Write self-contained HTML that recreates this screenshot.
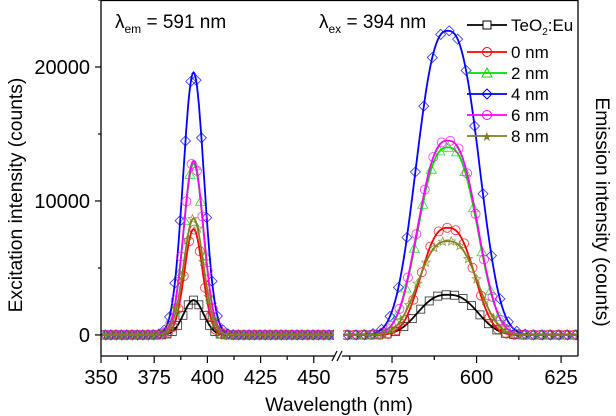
<!DOCTYPE html>
<html><head><meta charset="utf-8"><style>
body{margin:0;background:#fff}
svg text{font-family:"Liberation Sans",Arial,sans-serif;fill:#000}
</style></head><body>
<svg id="chart" width="616" height="416" viewBox="0 0 616 416" xmlns="http://www.w3.org/2000/svg" style="position:absolute;left:0;top:0">
<g id="plot"></g>
<g id="axes"></g>
</svg>
<script>
const seriesNames=["TeO2:Eu","0 nm","2 nm","4 nm","6 nm","8 nm"];
const seriesColors=["#000000","#ff0000","#00dd00","#0000ff","#ff00ff","#808020"];
const markerKinds=["square","circle","triangle","diamond","circle","star"];
const excitationPeaks=[2600,7900,12800,19600,13000,8700];
const emissionPeaks=[3000,8000,14000,22700,14500,7000];
const excitationCenter=393.5;
const emissionCenter=591.5;
const excitationFwhm=[11,10,11,11.5,11,11];
const emissionFwhm=[19,17,19,20,19,19];
const xTicksLeft=[350,375,400,425,450];
const xTicksRight=[575,600,625];
const yTicks=[0,10000,20000];

const NS="http://www.w3.org/2000/svg";
const L={x0:101,x1:334,d0:350,d1:459.5};
const R={x0:343,x1:578,d0:560.5,d1:630};
const Y={y0:356,y1:0,d0:-1570,d1:25000};
function xl(v){return L.x0+(v-L.d0)/(L.d1-L.d0)*(L.x1-L.x0);}
function xr(v){return R.x0+(v-R.d0)/(R.d1-R.d0)*(R.x1-R.x0);}
function ys(v){return Y.y0+(v-Y.d0)/(Y.d1-Y.d0)*(Y.y1-Y.y0);}
function mk(tag,attrs,parent){const e=document.createElementNS(NS,tag);for(const k in attrs)e.setAttribute(k,attrs[k]);parent.appendChild(e);return e;}
function g(c,p,f,P){return p*Math.exp(-Math.LN2*Math.pow(Math.abs(c)/(f/2),P));}
function marker(kind,x,y,color,parent){
  let e;
  if(kind==="square")e=mk("rect",{x:x-4,y:y-4,width:8,height:8},parent);
  else if(kind==="circle")e=mk("circle",{cx:x,cy:y,r:4.5},parent);
  else if(kind==="triangle")e=mk("path",{d:`M${x},${y-5}L${x+5},${y+4}L${x-5},${y+4}Z`},parent);
  else if(kind==="diamond")e=mk("path",{d:`M${x},${y-5}L${x+5},${y}L${x},${y+5}L${x-5},${y}Z`},parent);
  else{let d="";for(let i=0;i<10;i++){const r=i%2?2:4.5,a=-Math.PI/2+i*Math.PI/5;d+=(i?"L":"M")+(x+r*Math.cos(a)).toFixed(1)+","+(y+r*Math.sin(a)).toFixed(1);}e=mk("path",{d:d+"Z"},parent);}
  e.setAttribute("fill","none");e.setAttribute("stroke",color);e.setAttribute("stroke-width","0.9");e.setAttribute("opacity","0.75");
  return e;
}
const plot=document.getElementById("plot");
const cpL=mk("clipPath",{id:"cl"},plot);mk("rect",{x:L.x0,y:0,width:L.x1-L.x0,height:356},cpL);
const cpR=mk("clipPath",{id:"cr"},plot);mk("rect",{x:R.x0,y:0,width:R.x1-R.x0,height:356},cpR);
for(let i=0;i<seriesNames.length;i++){
  const gs=mk("g",{},plot);
  
  
  const gl=mk("g",{"clip-path":"url(#cl)"},gs);
  let d="";
  for(let v=350;v<=460;v+=0.5){d+=(d?"L":"M")+xl(v).toFixed(1)+","+ys(g(v-excitationCenter,excitationPeaks[i],excitationFwhm[i],2)).toFixed(1);}
  mk("path",{d:d,fill:"none",stroke:seriesColors[i],"stroke-width":1.8},gl);
  for(let v=351+i*0.4;v<=460;v+=2.5){marker(markerKinds[i],xl(v),ys(g(v-excitationCenter,excitationPeaks[i],excitationFwhm[i],2)),seriesColors[i],gl);}
  const gr=mk("g",{"clip-path":"url(#cr)"},gs);
  d="";
  for(let v=560;v<=631;v+=0.5){d+=(d?"L":"M")+xr(v).toFixed(1)+","+ys(g(v-emissionCenter,emissionPeaks[i],emissionFwhm[i],2.6)).toFixed(1);}
  mk("path",{d:d,fill:"none",stroke:seriesColors[i],"stroke-width":1.8},gr);
  for(let v=561+i*0.3;v<=631;v+=2.5){marker(markerKinds[i],xr(v),ys(g(v-emissionCenter,emissionPeaks[i],emissionFwhm[i],2.6)),seriesColors[i],gr);}
}
const ax=document.getElementById("axes");
mk("path",{d:"M101,356L101,0.5L578,0.5L578,356",fill:"none",stroke:"#000","stroke-width":1.3},ax);
mk("line",{x1:101,y1:356,x2:335,y2:356,stroke:"#000","stroke-width":1.3},ax);
mk("line",{x1:342,y1:356,x2:578,y2:356,stroke:"#000","stroke-width":1.3},ax);
mk("path",{d:"M332,361L337,351M337,361L342,351",fill:"none",stroke:"#000","stroke-width":1.2},ax);
for(let v=350;v<=455;v+=12.5){const x=xl(v);mk("line",{x1:x,y1:356,x2:x,y2:v%25===0?363:360,stroke:"#000","stroke-width":1.2},ax);}
for(let v=562.5;v<=630;v+=12.5){const x=xr(v);mk("line",{x1:x,y1:356,x2:x,y2:v%25===0?363:360,stroke:"#000","stroke-width":1.2},ax);}
xTicksLeft.forEach(v=>{const t=mk("text",{x:xl(v),y:384,"text-anchor":"middle","font-size":20},ax);t.textContent=v;
});
xTicksRight.forEach(v=>{const t=mk("text",{x:xr(v),y:384,"text-anchor":"middle","font-size":20},ax);t.textContent=v;
});
for(let v=-5000;v<=25000;v+=5000){const y=ys(v);if(y<0||y>356)continue;mk("line",{x1:v%10000===0?95:98,y1:y,x2:101,y2:y,stroke:"#000","stroke-width":1.2},ax);}
yTicks.forEach(v=>{const t=mk("text",{x:90,y:ys(v)+7,"text-anchor":"end","font-size":20},ax);t.textContent=v;
});
</script>
<svg style="position:absolute;left:0;top:0" width="616" height="416" xmlns="http://www.w3.org/2000/svg">
<text x="339" y="411" text-anchor="middle" font-size="19.5">Wavelength (nm)</text>
<text transform="translate(22,195) rotate(-90)" text-anchor="middle" font-size="19.3">Excitation intensity (counts)</text>
<text transform="translate(596,212) rotate(90)" text-anchor="middle" font-size="19.3">Emission intensity (counts)</text>
<text x="115" y="28" font-size="19">λ<tspan font-size="12" dy="5">em</tspan><tspan dy="-5"> = 591 nm</tspan></text>
<text x="319" y="28" font-size="19">λ<tspan font-size="12" dy="5">ex</tspan><tspan dy="-5"> = 394 nm</tspan></text>
<g font-size="17">
<g><line x1="467" y1="25" x2="507" y2="25" stroke="#000" stroke-width="1.8"/><rect x="483" y="21" width="8" height="8" fill="#fff" stroke="#000"/><text x="511" y="31">TeO<tspan font-size="10" dy="4">2</tspan><tspan dy="-4">:Eu</tspan></text></g>
<g><line x1="467" y1="52" x2="507" y2="52" stroke="#f00" stroke-width="1.8"/><circle cx="487" cy="52" r="4.5" fill="none" stroke="#f00"/><text x="511" y="58">0 nm</text></g>
<g><line x1="467" y1="73" x2="507" y2="73" stroke="#00dd00" stroke-width="1.8"/><path d="M487,68L492,77L482,77Z" fill="none" stroke="#00dd00"/><text x="511" y="79">2 nm</text></g>
<g><line x1="467" y1="94" x2="507" y2="94" stroke="#00f" stroke-width="1.8"/><path d="M487,89L492,94L487,99L482,94Z" fill="none" stroke="#00f"/><text x="511" y="100">4 nm</text></g>
<g><line x1="467" y1="115" x2="507" y2="115" stroke="#f0f" stroke-width="1.8"/><circle cx="487" cy="115" r="4.5" fill="none" stroke="#f0f"/><text x="511" y="121">6 nm</text></g>
<g><line x1="467" y1="136" x2="507" y2="136" stroke="#808020" stroke-width="1.8"/><text x="481" y="141" font-size="13" style="fill:#808020">★</text><text x="511" y="142">8 nm</text></g>
</g>
</svg>
</body></html>
